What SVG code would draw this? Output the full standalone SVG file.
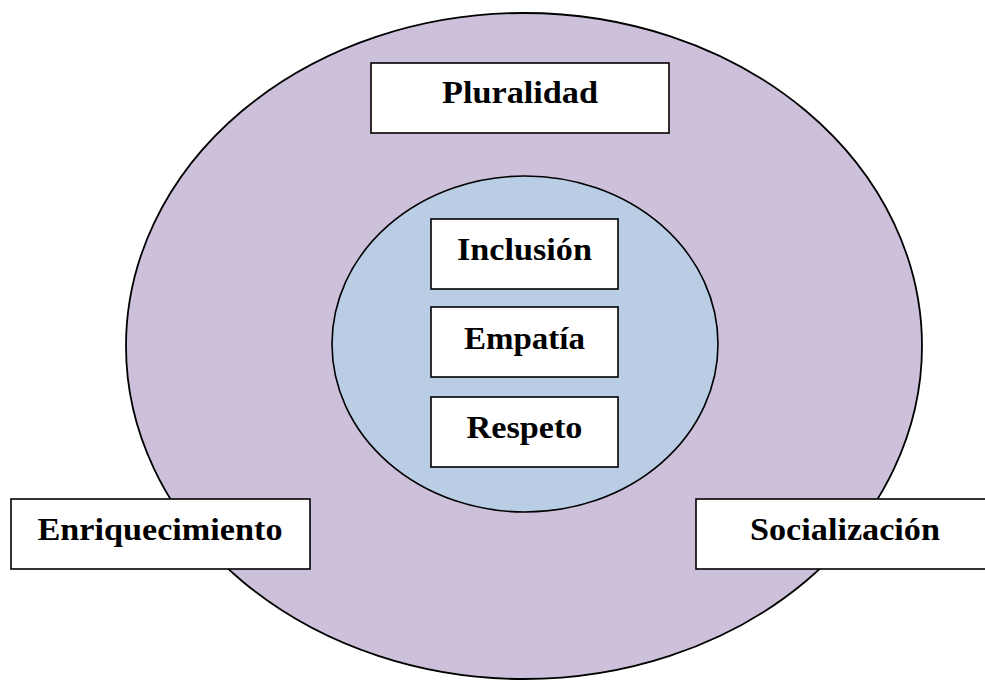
<svg xmlns="http://www.w3.org/2000/svg" width="985" height="680" viewBox="0 0 985 680">
<style>
.box{fill:#ffffff;stroke:#000000;stroke-width:1.6}
.lbl{font-family:"Liberation Serif","DejaVu Serif",serif;font-weight:bold;font-size:31px;fill:#000000;text-anchor:middle}
</style>
<rect x="0" y="0" width="985" height="680" fill="#ffffff"/>
<g id="outer">
<ellipse cx="524" cy="346" rx="398" ry="333" fill="#CCC0DA" stroke="#000000" stroke-width="1.8"/>
</g>
<g id="inner">
<ellipse cx="525" cy="344" rx="193" ry="168" fill="#B9CDE5" stroke="#000000" stroke-width="1.6"/>
</g>
<g id="connectors"></g>
<g id="pluralidad">
<rect class="box" x="371" y="63" width="298" height="70"/>
<text class="lbl" x="520" y="103" textLength="156" lengthAdjust="spacingAndGlyphs">Pluralidad</text>
</g>
<g id="inclusion">
<rect class="box" x="431" y="219" width="187" height="70"/>
<text class="lbl" x="524.5" y="260" textLength="135" lengthAdjust="spacingAndGlyphs">Inclusión</text>
</g>
<g id="empatia">
<rect class="box" x="431" y="307" width="187" height="70"/>
<text class="lbl" x="524.5" y="349" textLength="121" lengthAdjust="spacingAndGlyphs">Empatía</text>
</g>
<g id="respeto">
<rect class="box" x="431" y="397" width="187" height="70"/>
<text class="lbl" x="524.5" y="438" textLength="116" lengthAdjust="spacingAndGlyphs">Respeto</text>
</g>
<g id="enriquecimiento">
<rect class="box" x="11" y="499" width="299" height="70"/>
<text class="lbl" x="160" y="540" textLength="245" lengthAdjust="spacingAndGlyphs">Enriquecimiento</text>
</g>
<g id="socializacion">
<rect class="box" x="696" y="499" width="298" height="70"/>
<text class="lbl" x="845" y="540" textLength="190" lengthAdjust="spacingAndGlyphs">Socialización</text>
</g>
</svg>
